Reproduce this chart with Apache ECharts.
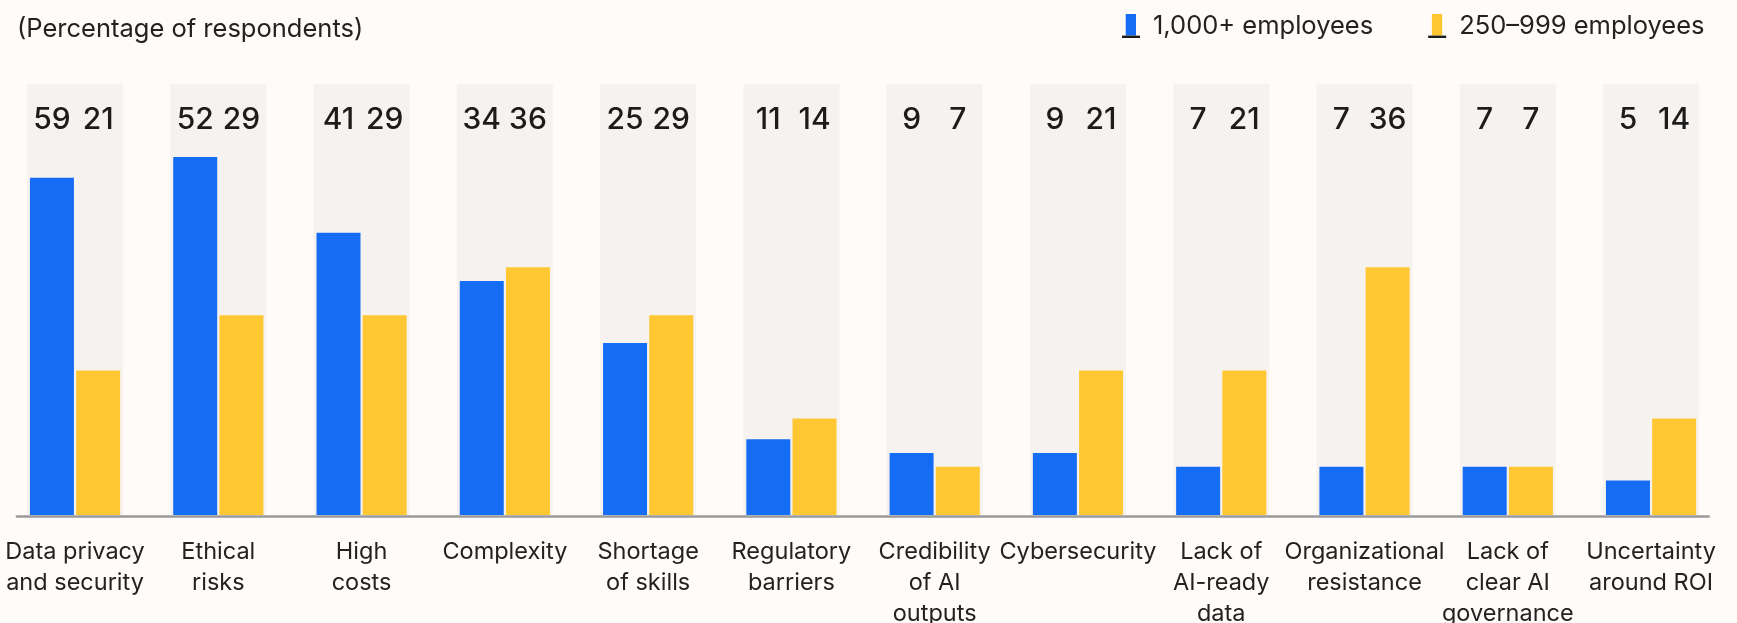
<!DOCTYPE html>
<html>
<head>
<meta charset="utf-8">
<script src="https://cdn.jsdelivr.net/npm/echarts@6/dist/echarts.min.js"></script>
<style>
  html, body { margin: 0; padding: 0; background: #fffbf8; }
  #chart { width: 1737px; height: 623px; }
</style>
</head>
<body>
<div id="chart"></div>
<script>
const categories = [
  'Data privacy\nand security', 'Ethical\nrisks', 'High\ncosts', 'Complexity',
  'Shortage\nof skills', 'Regulatory\nbarriers', 'Credibility\nof AI\noutputs', 'Cybersecurity',
  'Lack of\nAI-ready\ndata', 'Organizational\nresistance', 'Lack of\nclear AI\ngovernance', 'Uncertainty\naround ROI'
]
const seriesNames = ['1,000+ employees', '250\u2013999 employees']

// printed values
const largeLabels = [59, 52, 41, 34, 25, 11, 9, 9, 7, 7, 7, 5]
const midLabels = [21, 29, 29, 36, 29, 14, 7, 21, 21, 36, 7, 14]
// bar heights as drawn (first blue bar is drawn at ~49 in the source)
const largeBars = [49, 52, 41, 34, 25, 11, 9, 9, 7, 7, 7, 5]
const midBars = [21, 29, 29, 36, 29, 14, 7, 21, 21, 36, 7, 14]

const yMax = 62.6
const font = 'Inter'
const textColor = '#222'
const blue = '#166df5'
const yellow = '#ffc832'

const chart = echarts.init(document.getElementById('chart'))

const hiddenCat = () => ({
  type: 'category', gridIndex: 0, data: categories, show: false
})

const labelSeries = (name, labels) => ({
  name: name,
  type: 'bar',
  xAxisIndex: 1,
  barWidth: 44,
  barGap: '5%',
  silent: true,
  z: 4,
  itemStyle: { color: 'transparent' },
  label: {
    show: true,
    position: ['50%', 36],
    align: 'center',
    verticalAlign: 'middle',
    fontFamily: font,
    fontSize: 30,
    fontWeight: 500,
    color: '#1c1c1c',
    formatter: (p) => String(labels[p.dataIndex])
  },
  data: categories.map(() => yMax)
})

const legendBase = {
  left: 1122,
  top: 13,
  padding: 0,
  itemWidth: 26,
  itemHeight: 24,
  itemGap: 55,
  selectedMode: false,
  textStyle: { fontFamily: font, fontSize: 25.5, color: textColor },
  data: seriesNames
}

const option = {
  backgroundColor: '#fffbf8',
  animation: false,
  title: {
    text: '(Percentage of respondents)',
    left: 17,
    top: 15,
    padding: 0,
    textStyle: { fontFamily: font, fontSize: 25.5, fontWeight: 400, color: textColor, lineHeight: 28 }
  },
  legend: [
    Object.assign({}, legendBase, {
      icon: 'path://M0,0L0,0M26,24L26,24M3.7,0L14,0L14,21.6L3.7,21.6Z'
    }),
    Object.assign({}, legendBase, {
      icon: 'path://M0,0L0,0M26,24L26,24M0,21.6L18,21.6L18,24L0,24Z',
      itemStyle: { color: '#1c1c1c' },
      textStyle: { fontFamily: font, fontSize: 25.5, color: 'transparent' }
    })
  ],
  grid: [
    { left: 3.4, right: 14.3, top: 84, bottom: 108, outerBoundsMode: 'none', containLabel: false },
    { left: 17, right: 28.3, top: 84, bottom: 106.7, outerBoundsMode: 'none', containLabel: false }
  ],
  xAxis: [
    {
      type: 'category',
      gridIndex: 0,
      data: categories,
      axisLine: { show: false },
      axisTick: { show: false },
      axisLabel: {
        interval: 0,
        margin: 21.5,
        fontFamily: font,
        fontSize: 23.5,
        lineHeight: 31,
        color: textColor
      }
    },
    hiddenCat(),
    hiddenCat(),
    {
      type: 'value',
      gridIndex: 1,
      min: 0,
      max: 1,
      axisLine: { show: true, onZero: false, lineStyle: { color: '#9a9a9a', width: 2.7 } },
      axisTick: { show: false },
      axisLabel: { show: false },
      splitLine: { show: false }
    }
  ],
  yAxis: [
    { type: 'value', gridIndex: 0, min: 0, max: yMax, show: false },
    { type: 'value', gridIndex: 1, min: 0, max: 1, show: false }
  ],
  series: [
    {
      name: 'band',
      type: 'bar',
      xAxisIndex: 2,
      barWidth: 96,
      silent: true,
      z: 1,
      itemStyle: { color: '#f6f2ef' },
      data: categories.map(() => yMax)
    },
    {
      name: seriesNames[0],
      type: 'bar',
      xAxisIndex: 0,
      barWidth: 44,
      barGap: '5%',
      z: 3,
      itemStyle: { color: blue },
      data: largeBars
    },
    {
      name: seriesNames[1],
      type: 'bar',
      xAxisIndex: 0,
      barWidth: 44,
      barGap: '5%',
      z: 3,
      itemStyle: { color: yellow },
      data: midBars
    },
    labelSeries('lblLarge', largeLabels),
    labelSeries('lblMid', midLabels)
  ]
}

chart.setOption(option)
</script>
</body>
</html>
